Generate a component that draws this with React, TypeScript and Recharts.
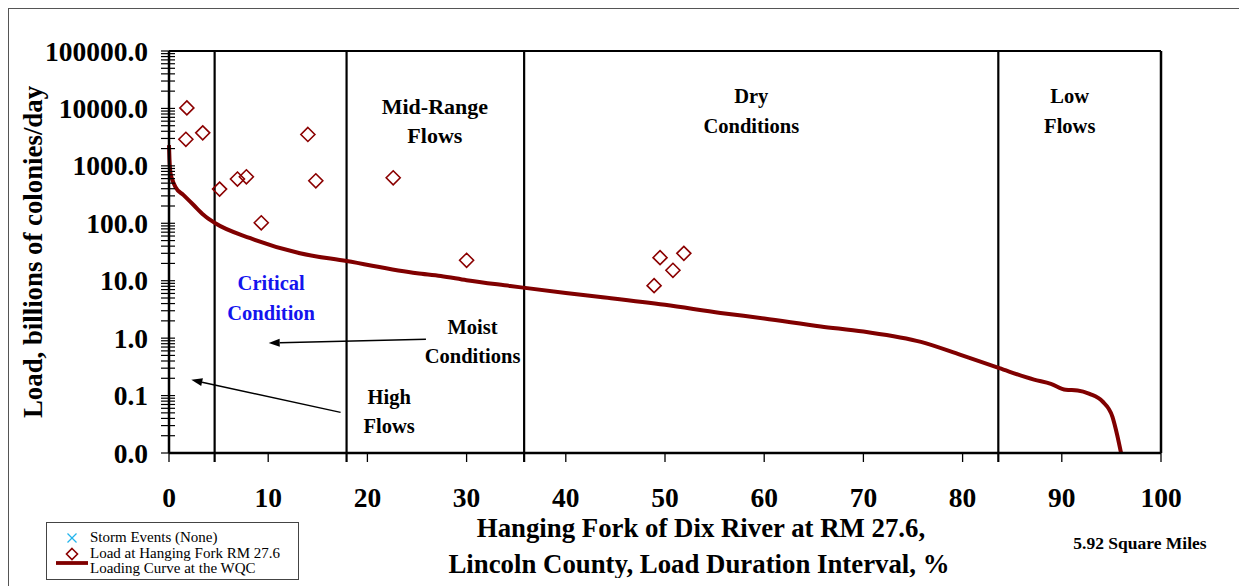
import React from 'react';
import {
  ComposedChart,
  Line,
  Scatter,
  XAxis,
  YAxis,
  Legend,
  ReferenceLine,
  ReferenceDot,
} from 'recharts';

// Loading curve at the WQC (duration interval %, load in billions of colonies/day)
const curveInterval = [
  0, 0.05, 0.15, 0.3, 0.64, 1.47, 2.48, 3.5, 4.67, 8.2, 13.2, 17.9, 25, 27.4, 30, 34.4, 40, 43.5,
  50, 55.6, 60, 65.7, 70, 75.8, 79.8, 83.7, 87.2, 88.9, 90.4, 91.6, 92.8, 94.1, 95.1, 95.6, 96.0,
];
const curveLoad = [
  2300, 1300, 750, 600, 430, 309, 208, 139, 100, 55, 30, 22, 13.5, 12.1, 10.2, 8.1, 6.1, 5.2, 3.8,
  2.75, 2.2, 1.6, 1.3, 0.86, 0.51, 0.3, 0.19, 0.16, 0.126, 0.123, 0.107, 0.079, 0.043, 0.02, 0.0095,
];

// Measured loads at Hanging Fork RM 27.6
const sampleInterval = [1.8, 1.7, 3.4, 5.1, 6.9, 7.8, 9.3, 14.0, 14.8, 22.6, 30.0, 49.5, 51.9, 50.8, 48.9];
const sampleLoad = [10200, 2900, 3760, 394, 589, 645, 102, 3520, 550, 620, 22.7, 25.2, 30, 15.2, 8.2];

// Storm events (none sampled)
const stormInterval: number[] = [];
const stormLoad: number[] = [];

// Flow zone boundaries, %
const zoneBounds = [4.6, 17.9, 35.8, 83.6];

const xTicks = [0, 10, 20, 30, 40, 50, 60, 70, 80, 90, 100];
const yTicks = [0.01, 0.1, 1, 10, 100, 1000, 10000, 100000];

const seriesNames = ['Storm Events (None)', 'Load at Hanging Fork RM 27.6', 'Loading Curve at the WQC'];

const curveData = curveInterval.map((x, i) => ({ x, load: curveLoad[i] }));
const sampleData = sampleInterval.map((x, i) => ({ x, load: sampleLoad[i] }));
const stormData = stormInterval.map((x, i) => ({ x, load: stormLoad[i] }));

const yTickAll: number[] = [];
yTicks.forEach((d, i) => {
  yTickAll.push(d);
  if (i < yTicks.length - 1) for (let m = 2; m < 10; m++) yTickAll.push(d * m);
});
const xTickAll = [...xTicks, ...zoneBounds].sort((a, b) => a - b);

const FONT = '"Liberation Serif", "Times New Roman", serif';
const RED = '#800000';

const YTick = (props: any) => {
  const { x, y, payload } = props;
  const v = payload.value;
  const major = yTicks.includes(v);
  return (
    <g>
      <line x1={x - 8} x2={x + 6} y1={y} y2={y} stroke="#000" strokeWidth={1.2} />
      {major && (
        <text x={x - 21} y={y} textAnchor="end" dominantBaseline="central" fontFamily={FONT} fontWeight="bold" fontSize={27.5} fill="#000">
          {v.toFixed(1)}
        </text>
      )}
    </g>
  );
};

const XTick = (props: any) => {
  const { x, y, payload } = props;
  const v = payload.value;
  const labeled = xTicks.includes(v);
  return (
    <g>
      <line x1={x} x2={x} y1={y} y2={y + 9} stroke="#000" strokeWidth={labeled ? 1.3 : 2.2} />
      {labeled && (
        <text x={x} y={y + 44} textAnchor="middle" dominantBaseline="central" fontFamily={FONT} fontWeight="bold" fontSize={27.5} fill="#000">
          {v}
        </text>
      )}
    </g>
  );
};

const Diamond = (props: any) => {
  const { cx, cy } = props;
  if (cx == null || cy == null) return null;
  const r = 7;
  return (
    <path d={`M${cx},${cy - r}L${cx + r},${cy}L${cx},${cy + r}L${cx - r},${cy}Z`} fill="none" stroke="#8B0000" strokeWidth={1.6} />
  );
};

const Arrow = (props: any) => {
  const { x1, y1, x2, y2 } = props;
  const a = Math.atan2(y2 - y1, x2 - x1);
  const len = 11;
  const w = 4;
  const bx = x2 - len * Math.cos(a);
  const by = y2 - len * Math.sin(a);
  const px = -Math.sin(a) * w;
  const py = Math.cos(a) * w;
  return (
    <g>
      <line x1={x1} y1={y1} x2={bx} y2={by} stroke="#000" strokeWidth={1.5} />
      <path d={`M${x2},${y2}L${bx + px},${by + py}L${bx - px},${by - py}Z`} fill="#000" />
    </g>
  );
};

const zoneText = (lines: string[], color = '#000', size = 20.5) => (p: any) => {
  const { x, y } = p.viewBox;
  return (
    <g>
      {lines.map((t, i) => (
        <text key={t} x={x} y={y + i * 29.5} textAnchor="middle" dominantBaseline="central" fontFamily={FONT} fontWeight="bold" fontSize={size} fill={color}>
          {t}
        </text>
      ))}
    </g>
  );
};

const renderYLabel = (p: any) => {
  const { x, y, height } = p.viewBox;
  const cx = x + 25;
  const cy = y + height / 2;
  return (
    <text x={cx} y={cy} transform={`rotate(-90 ${cx} ${cy})`} textAnchor="middle" dominantBaseline="central" fontFamily={FONT} fontWeight="bold" fontSize={26.8} fill="#000">
      Load, billions of colonies/day
    </text>
  );
};

const renderXLabel = (p: any) => {
  const { x, y, width } = p.viewBox;
  const cx = x + width / 2 + 36;
  return (
    <g fontFamily={FONT} fontWeight="bold" fill="#000">
      <text x={cx} y={y + 75} textAnchor="middle" dominantBaseline="central" fontSize={26.8}>
        Hanging Fork of Dix River at RM 27.6,
      </text>
      <text x={cx - 2} y={y + 111} textAnchor="middle" dominantBaseline="central" fontSize={26.8}>
        Lincoln County, Load Duration Interval, %
      </text>
      <text x={x + width - 21} y={y + 90} textAnchor="middle" dominantBaseline="central" fontSize={17.5}>
        5.92 Square Miles
      </text>
    </g>
  );
};

const renderLegend = () => (
  <div
    style={{
      position: 'relative',
      width: 253,
      height: 58,
      border: '1px solid #444',
      boxSizing: 'border-box',
      background: '#fff',
      fontFamily: FONT,
      fontSize: 15,
      color: '#000',
    }}
  >
    <svg style={{ position: 'absolute', left: 0, top: 0 }} width={60} height={56}>
      <line x1={20.5} y1={10.5} x2={29.5} y2={19.5} stroke="#22b4ec" strokeWidth={1.3} />
      <line x1={29.5} y1={10.5} x2={20.5} y2={19.5} stroke="#22b4ec" strokeWidth={1.3} />
      <path d="M25,25.5L30.5,31L25,36.5L19.5,31Z" fill="none" stroke="#8B0000" strokeWidth={1.6} />
      <line x1={9} x2={41} y1={40} y2={40} stroke={RED} strokeWidth={3.8} />
    </svg>
    {seriesNames.map((n, i) => (
      <div key={n} style={{ position: 'absolute', left: 43, top: 7 + i * 15.5, lineHeight: '15px', whiteSpace: 'nowrap' }}>
        {n}
      </div>
    ))}
  </div>
);

export default function App() {
  return (
    <div style={{ position: 'relative', width: 1239, height: 586, overflow: 'hidden', fontFamily: FONT }}>
      <style>{'html, body { margin: 0; padding: 0; overflow: hidden; }'}</style>
      <div
        style={{
          position: 'absolute',
          left: 8,
          top: 8,
          width: 1231,
          height: 578,
          borderTop: '1px solid #555',
          borderLeft: '1px solid #555',
          boxSizing: 'border-box',
          pointerEvents: 'none',
        }}
      />
      <div style={{ position: 'absolute', left: 8, top: 8 }}>
        <ComposedChart width={1223} height={570} margin={{ top: 43, right: 70, left: 0, bottom: 0 }}>
          <XAxis
            dataKey="x"
            type="number"
            domain={[0, 100]}
            ticks={xTickAll}
            interval={0}
            tick={<XTick />}
            tickSize={0}
            tickMargin={0}
            tickLine={false}
            height={125}
            axisLine={{ stroke: '#000', strokeWidth: 2.5 }}
            label={renderXLabel}
          />
          <YAxis
            dataKey="load"
            scale="log"
            domain={[0.01, 100000]}
            allowDataOverflow
            ticks={yTickAll}
            interval={0}
            tick={<YTick />}
            tickSize={0}
            tickMargin={0}
            tickLine={false}
            width={161}
            axisLine={{ stroke: '#000', strokeWidth: 2.5 }}
            label={renderYLabel}
          />
          <ReferenceLine y={100000} stroke="#000" strokeWidth={2} />
          <ReferenceLine x={100} stroke="#000" strokeWidth={2.5} />
          {zoneBounds.map((b) => (
            <ReferenceLine key={b} x={b} stroke="#000" strokeWidth={2.2} />
          ))}

          <ReferenceDot x={26.8} y={10900} r={0} fill="none" stroke="none" label={zoneText(['Mid-Range', 'Flows'], '#000', 22)} />
          <ReferenceDot x={58.7} y={16300} r={0} fill="none" stroke="none" label={zoneText(['Dry', 'Conditions'])} />
          <ReferenceDot x={90.8} y={16300} r={0} fill="none" stroke="none" label={zoneText(['Low', 'Flows'])} />
          <ReferenceDot x={10.3} y={9.1} r={0} fill="none" stroke="none" label={zoneText(['Critical', 'Condition'], '#1414ee')} />
          <ReferenceDot x={30.6} y={1.57} r={0} fill="none" stroke="none" label={zoneText(['Moist', 'Conditions'])} />
          <ReferenceDot x={22.2} y={0.095} r={0} fill="none" stroke="none" label={zoneText(['High', 'Flows'])} />

          <ReferenceLine segment={[{ x: 25.9, y: 0.96 }, { x: 10.05, y: 0.82 }]} shape={Arrow} />
          <ReferenceLine segment={[{ x: 17.3, y: 0.051 }, { x: 2.25, y: 0.188 }]} shape={Arrow} />

          <Scatter name={seriesNames[0]} data={stormData} fill="#22b4ec" isAnimationActive={false} />
          <Scatter name={seriesNames[1]} data={sampleData} shape={Diamond} isAnimationActive={false} />
          <Line
            name={seriesNames[2]}
            data={curveData}
            dataKey="load"
            type="monotone"
            stroke={RED}
            strokeWidth={4}
            dot={false}
            activeDot={false}
            isAnimationActive={false}
          />
          <Legend
            layout="horizontal"
            verticalAlign="middle"
            align="center"
            wrapperStyle={{ position: 'absolute', left: 38, top: 514, width: 253, height: 58 }}
            content={renderLegend}
          />
        </ComposedChart>
      </div>
    </div>
  );
}
